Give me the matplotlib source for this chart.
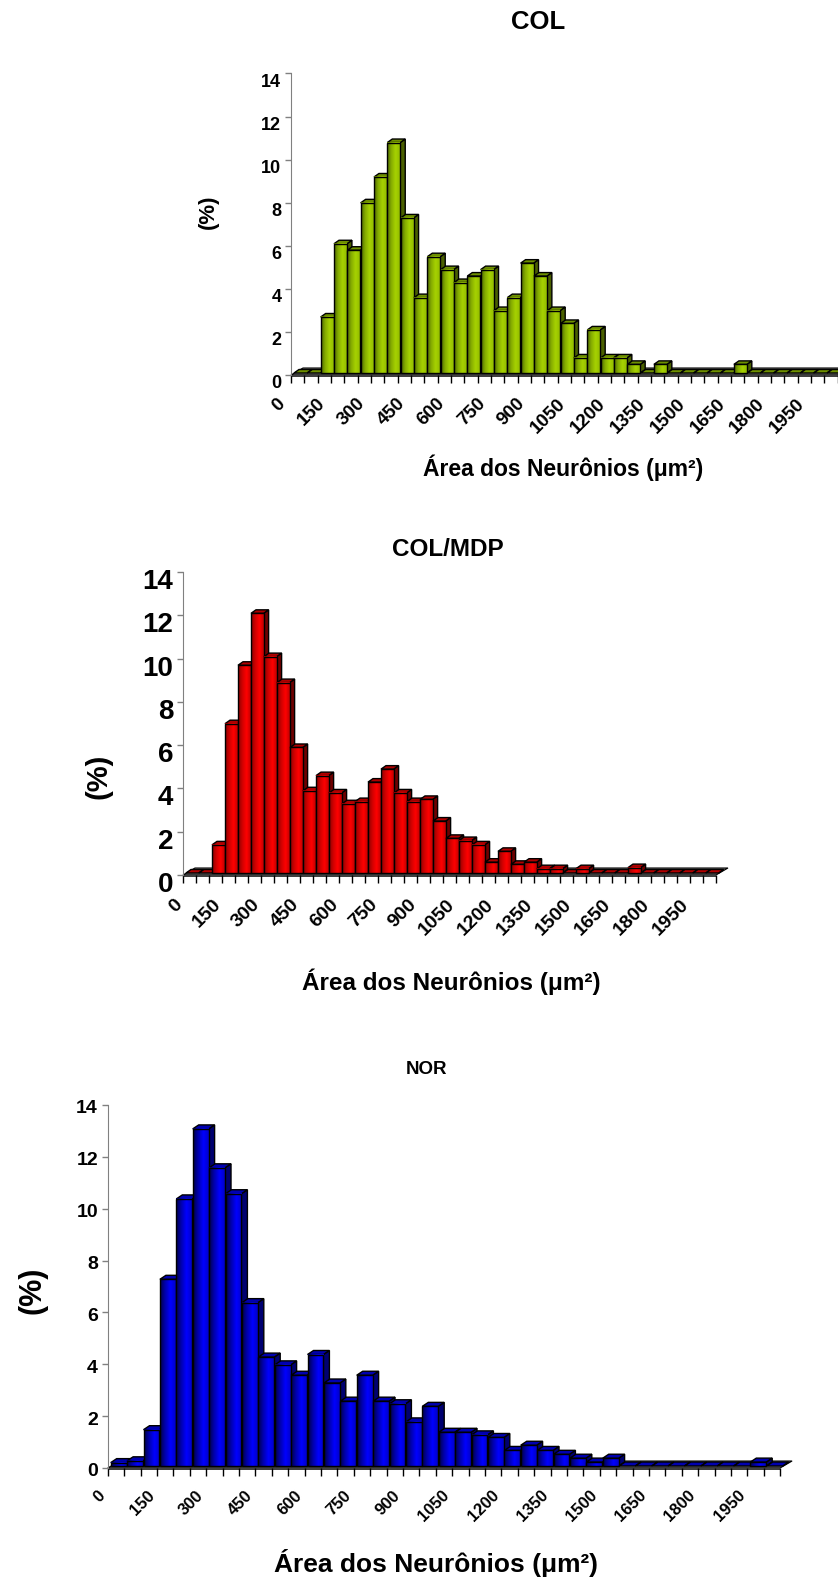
import numpy as np
import matplotlib
matplotlib.use('Agg')
from matplotlib import pyplot as plt
from matplotlib.colors import LinearSegmentedColormap
from matplotlib.patches import Polygon
from matplotlib.transforms import ScaledTranslation

plt.rcParams['font.family'] = ['Liberation Sans', 'DejaVu Sans']
plt.rcParams['font.weight'] = 'bold'

# classes de área (µm²), de 50 em 50
classes = list(range(0, 2050, 50))
rotulos_x = [str(c) if c % 150 == 0 else '' for c in classes]

# frequência relativa (%) por classe
col = [0, 0, 2.6, 6.0, 5.7, 7.9, 9.1, 10.7, 7.2, 3.5, 5.4, 4.8, 4.2, 4.5, 4.8,
       2.9, 3.5, 5.1, 4.5, 2.9, 2.3, 0.7, 2.0, 0.7, 0.7, 0.4, 0, 0.4, 0, 0,
       0, 0, 0, 0.4, 0, 0, 0, 0, 0, 0, 0]
col_mdp = [0, 0, 1.3, 6.9, 9.6, 12.0, 10.0, 8.8, 5.8, 3.8, 4.5, 3.7, 3.2, 3.3,
           4.2, 4.8, 3.7, 3.3, 3.4, 2.4, 1.6, 1.5, 1.3, 0.5, 1.0, 0.4, 0.5,
           0.2, 0.2, 0, 0.2, 0, 0, 0, 0.25, 0, 0, 0, 0, 0, 0]
nor = [0.13, 0.2, 1.4, 7.2, 10.3, 13.0, 11.5, 10.5, 6.3, 4.2, 3.9, 3.5, 4.3,
       3.2, 2.5, 3.5, 2.5, 2.4, 1.7, 2.3, 1.3, 1.3, 1.2, 1.1, 0.6, 0.8, 0.6,
       0.45, 0.3, 0.15, 0.3, 0, 0, 0, 0, 0, 0, 0, 0, 0.15, 0]

W, H = 838, 1579
fig = plt.figure(figsize=(W / 100, H / 100), dpi=100)

cores = {
    'verde': dict(frente=['#4f6800', '#86ad00', '#a6d200', '#94bd00'],
                  lado='#4a6000', topo='#6e9000'),
    'vermelho': dict(frente=['#8a0000', '#d00000', '#ff0000', '#c00000'],
                     lado='#6e0000', topo='#b00000'),
    'azul': dict(frente=['#00004a', '#0000b0', '#0000ff', '#0000c8'],
                 lado='#000070', topo='#0000b0'),
}


def painel(dados, cor, titulo, esq, y0, bin_px, y_px,
           fs_tit, tit_xy, fs_yt, fs_xt, xt_off, fs_xl, xl_xy, fs_pct, pct_xy,
           yt_shift, prof=(5, 3.5)):
    n = len(dados)
    ax = fig.add_axes([esq / W, (H - y0) / H, n * bin_px / W, 14 * y_px / H])
    ax.set_xlim(0, n)
    ax.set_ylim(0, 14)

    # piso em perspectiva
    fdx, fdy = 12 / bin_px, 7 / y_px
    band = 2 / y_px
    ax.add_patch(Polygon([(0, 0), (n, 0), (n + fdx, fdy), (fdx, fdy)],
                         closed=True, fc='#808080', ec='black', lw=0.8,
                         clip_on=False, zorder=1))
    ax.add_patch(Polygon([(0, 0), (n, 0), (n, -band), (0, -band)],
                         closed=True, fc='#404040', ec='none',
                         clip_on=False, zorder=1))

    cm = LinearSegmentedColormap.from_list('f', cores[cor]['frente'])
    grad = np.linspace(0, 1, 64).reshape(1, -1)
    bx, by = 3 / bin_px, 2 / y_px
    ddx, ddy = prof[0] / bin_px, prof[1] / y_px
    larg = 0.97
    for k, v in enumerate(dados):
        z = 2 + k * 0.01
        x0, x1 = k + bx, k + bx + larg
        b, t = by, by + v
        ax.add_patch(Polygon([(x1, b), (x1 + ddx, b + ddy), (x1 + ddx, t + ddy), (x1, t)],
                             closed=True, fc=cores[cor]['lado'], ec='black', lw=1,
                             clip_on=False, zorder=z))
        ax.add_patch(Polygon([(x0, t), (x1, t), (x1 + ddx, t + ddy), (x0 + ddx, t + ddy)],
                             closed=True, fc=cores[cor]['topo'], ec='black', lw=1,
                             clip_on=False, zorder=z + 0.001))
        if v > 0:
            ax.imshow(grad, extent=[x0, x1, b, t], aspect='auto', cmap=cm,
                      interpolation='bilinear', zorder=z + 0.002, clip_on=False)
            ax.add_patch(Polygon([(x0, b), (x1, b), (x1, t), (x0, t)], closed=True,
                                 fc='none', ec='black', lw=1, clip_on=False,
                                 zorder=z + 0.003))
    ax.set_xlim(0, n)
    ax.set_ylim(0, 14)

    for s in ['top', 'right', 'bottom']:
        ax.spines[s].set_visible(False)
    ax.spines['left'].set_color('#808080')
    ax.set_xticks(range(n + 1))
    ax.tick_params(axis='x', length=6, color='black', width=1, labelbottom=False)
    ax.set_yticks(range(0, 15, 2))
    ax.tick_params(axis='y', length=4, color='#808080', width=1, labelsize=fs_yt, pad=3)
    for lab in ax.get_yticklabels():
        lab.set_fontweight('bold')
        lab.set_transform(lab.get_transform() +
                          ScaledTranslation(0, -yt_shift / 100, fig.dpi_scale_trans))

    for k, r in enumerate(rotulos_x):
        if r:
            ax.annotate(r, xy=(k + 0.5, 0), xytext=xt_off, textcoords='offset pixels',
                        rotation=45, rotation_mode='anchor', ha='right', va='center',
                        fontsize=fs_xt, fontweight='bold', annotation_clip=False)

    fig.text(tit_xy[0] / W, 1 - tit_xy[1] / H, titulo, ha='center', va='center',
             fontsize=fs_tit, fontweight='bold')
    fig.text(xl_xy[0] / W, 1 - xl_xy[1] / H, 'Área dos Neurônios (μm²)',
             ha='center', va='center', fontsize=fs_xl, fontweight='bold')
    fig.text(pct_xy[0] / W, 1 - pct_xy[1] / H, '(%)', rotation=90,
             ha='center', va='center', fontsize=fs_pct, fontweight='bold')
    return ax


painel(col, 'verde', 'COL', 291, 375, 13.33, 21.54,
       fs_tit=18.5, tit_xy=(538, 22), fs_yt=13, fs_xt=13.5, xt_off=(-15, -26),
       fs_xl=16.5, xl_xy=(563, 468), fs_pct=16, pct_xy=(208, 212), yt_shift=7)

painel(col_mdp, 'vermelho', 'COL/MDP', 183, 875, 13.0, 21.64,
       fs_tit=17.5, tit_xy=(448, 549), fs_yt=20, fs_xt=14, xt_off=(-10, -27),
       fs_xl=17.5, xl_xy=(451, 982), fs_pct=21, pct_xy=(98, 776), yt_shift=7)

painel(nor, 'azul', 'NOR', 107.7, 1468, 16.4, 25.93,
       fs_tit=13.5, tit_xy=(426, 1070), fs_yt=14, fs_xt=12, xt_off=(-13, -25),
       fs_xl=19, xl_xy=(436, 1563), fs_pct=22, pct_xy=(32, 1290), yt_shift=2,
       prof=(6, 4))

fig.savefig('out.png', dpi=100)
